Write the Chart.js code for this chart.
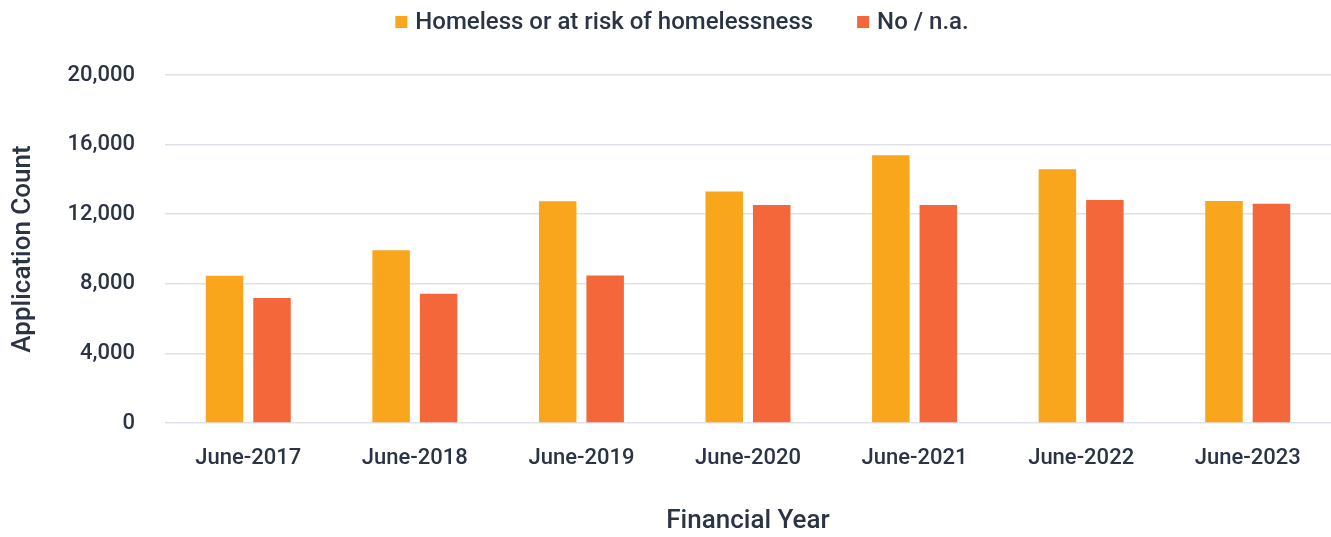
<!DOCTYPE html>
<html>
<head>
<meta charset="utf-8">
<script src="https://cdn.jsdelivr.net/npm/chart.js@4/dist/chart.umd.min.js"></script>
<style>
  html, body { margin: 0; padding: 0; background: #ffffff; }
  #wrap { width: 1331px; height: 537px; position: relative; }
</style>
</head>
<body>
<div id="wrap"><canvas id="c"></canvas></div>
<script>
const categories = ["June-2017", "June-2018", "June-2019", "June-2020", "June-2021", "June-2022", "June-2023"];
const homelessValues = [8460, 9930, 12740, 13310, 15390, 14590, 12760];
const noNaValues = [7180, 7430, 8480, 12530, 12530, 12810, 12600];
const seriesNames = ["Homeless or at risk of homelessness", "No / n.a."];
const seriesColors = ["#F9A61C", "#F3673A"];
const yTicks = [0, 4000, 8000, 12000, 16000, 20000];

const textColor = "#2B3445";
const fontFamily = "Roboto, 'Noto Sans', sans-serif";

// Legend drawn at the top, using the datasets' labels and colours
const topLegend = {
  id: "topLegend",
  afterDraw(chart) {
    const ctx = chart.ctx;
    ctx.save();
    ctx.font = "500 24px " + fontFamily;
    ctx.textBaseline = "middle";
    ctx.textAlign = "left";
    const box = 12, boxGap = 8, itemGap = 44;
    const items = chart.data.datasets.map(d => ({ label: d.label, color: d.backgroundColor, w: ctx.measureText(d.label).width }));
    let total = 0;
    items.forEach((it, i) => { total += box + boxGap + it.w + (i ? itemGap : 0); });
    let x = 682 - total / 2;
    const yc = 22;
    items.forEach((it, i) => {
      if (i) x += itemGap;
      ctx.fillStyle = it.color;
      ctx.fillRect(x, yc - box / 2, box, box);
      x += box + boxGap;
      ctx.fillStyle = textColor;
      ctx.fillText(it.label, x, yc + 1);
      x += it.w;
    });
    ctx.restore();
  }
};

new Chart(document.getElementById("c"), {
  type: "bar",
  data: {
    labels: categories,
    datasets: [
      { label: seriesNames[0], data: homelessValues, backgroundColor: seriesColors[0],
        categoryPercentage: 0.57, barPercentage: 0.79 },
      { label: seriesNames[1], data: noNaValues, backgroundColor: seriesColors[1],
        categoryPercentage: 0.57, barPercentage: 0.79 }
    ]
  },
  plugins: [topLegend],
  options: {
    responsive: true,
    maintainAspectRatio: false,
    animation: false,
    layout: { padding: { left: 0, right: 0, top: 75, bottom: 0 } },
    plugins: {
      legend: { display: false },
      tooltip: { enabled: false }
    },
    scales: {
      x: {
        grid: { display: false, drawTicks: false },
        border: { display: false },
        ticks: { color: textColor, font: { family: fontFamily, size: 22, weight: "500" }, padding: 22, maxRotation: 0 },
        title: { display: true, text: "Financial Year", color: textColor,
                 font: { family: fontFamily, size: 26, weight: "500" }, padding: { top: 34, bottom: 0 } },
        afterFit: (s) => { s.height = 114; }
      },
      y: {
        min: 0, max: 20000,
        afterBuildTicks: (s) => { s.ticks = yTicks.map(v => ({ value: v })); },
        grid: { color: "#DDE1EA", lineWidth: 1.5, drawTicks: false },
        border: { display: false },
        ticks: { color: textColor, font: { family: fontFamily, size: 22, weight: "500" }, padding: 30,
                 callback: (v) => Number(v).toLocaleString("en-US") },
        title: { display: true, text: "Application Count", color: textColor,
                 font: { family: fontFamily, size: 26, weight: "500" }, padding: { top: 8, bottom: 0 } },
        afterFit: (s) => { s.width = 165; }
      }
    }
  }
});
</script>
</body>
</html>
